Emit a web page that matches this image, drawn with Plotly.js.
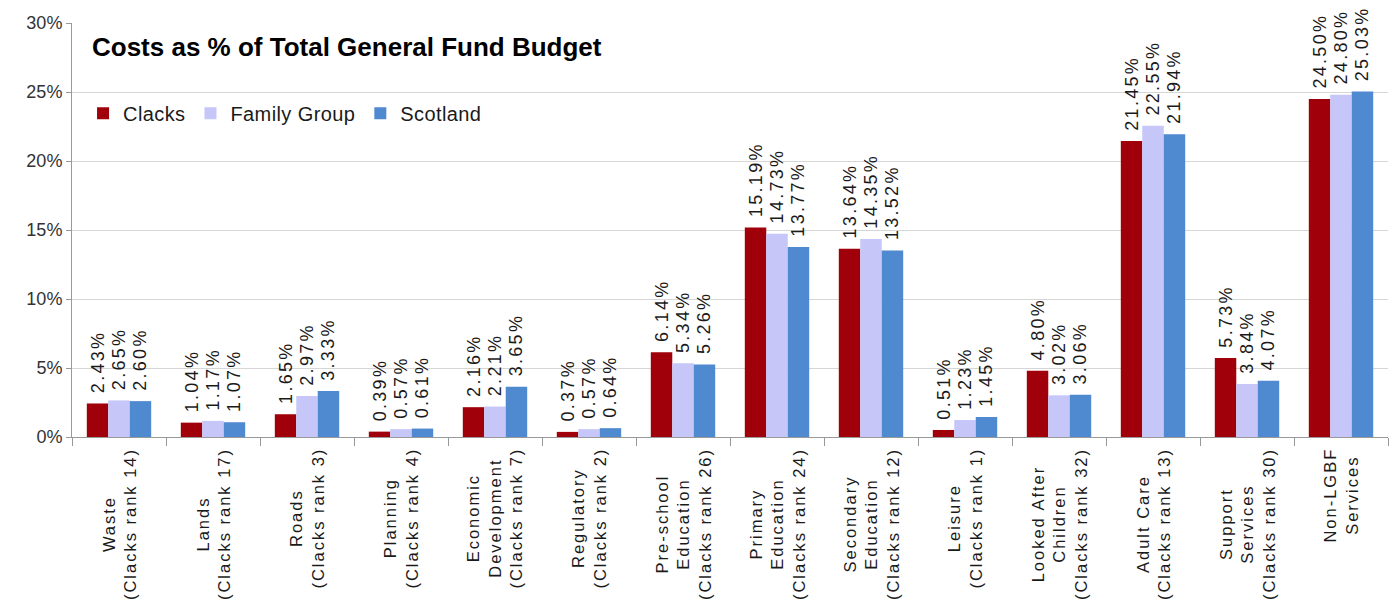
<!DOCTYPE html>
<html>
<head>
<meta charset="utf-8">
<script src="https://cdn.plot.ly/plotly-3.0.1.min.js"></script>
<style>
html,body{margin:0;padding:0;background:#fff;}
#chart{width:1399px;height:607px;}
text.bartext{letter-spacing:2.3px;}
text.annotation-text{letter-spacing:2px;}
text.legendtext{letter-spacing:0.4px;}
</style>
</head>
<body>
<div id="chart"></div>
<script>
const categories = ["Waste", "Lands", "Roads", "Planning", "Economic Development", "Regulatory", "Pre-school Education", "Primary Education", "Secondary Education", "Leisure", "Looked After Children", "Adult Care", "Support Services", "Non-LGBF Services"];
const categoryLabels = [
  "Waste<br>(Clacks rank 14)",
  "Lands<br>(Clacks rank 17)",
  "Roads<br>(Clacks rank 3)",
  "Planning<br>(Clacks rank 4)",
  "Economic<br>Development<br>(Clacks rank 7)",
  "Regulatory<br>(Clacks rank 2)",
  "Pre-school<br>Education<br>(Clacks rank 26)",
  "Primary<br>Education<br>(Clacks rank 24)",
  "Secondary<br>Education<br>(Clacks rank 12)",
  "Leisure<br>(Clacks rank 1)",
  "Looked After<br>Children<br>(Clacks rank 32)",
  "Adult Care<br>(Clacks rank 13)",
  "Support<br>Services<br>(Clacks rank 30)",
  "Non-LGBF<br>Services"
];
const clacks = [2.43, 1.04, 1.65, 0.39, 2.16, 0.37, 6.14, 15.19, 13.64, 0.51, 4.80, 21.45, 5.73, 24.50];
const familyGroup = [2.65, 1.17, 2.97, 0.57, 2.21, 0.57, 5.34, 14.73, 14.35, 1.23, 3.02, 22.55, 3.84, 24.80];
const scotland = [2.60, 1.07, 3.33, 0.61, 3.65, 0.64, 5.26, 13.77, 13.52, 1.45, 3.06, 21.94, 4.07, 25.03];
const seriesNames = ["Clacks", "Family Group", "Scotland"];
const seriesColors = ["#a0000a", "#c6c6f8", "#4f89cf"];
const yTicks = [0, 5, 10, 15, 20, 25, 30];

const font = "Liberation Sans, Arial, sans-serif";
const allSeries = [clacks, familyGroup, scotland];
const traces = allSeries.map((vals, i) => ({
  type: "bar",
  name: seriesNames[i],
  x: categories,
  y: vals,
  marker: {color: seriesColors[i]},
  text: vals.map(v => " " + v.toFixed(2) + "%"),
  textposition: "outside",
  textangle: -90,
  constraintext: "none",
  cliponaxis: false,
  textfont: {family: font, size: 18, color: "#1a1a1a"},
  hoverinfo: "x+y"
}));

const annotations = categories.map((c, i) => ({
  x: c, xref: "x", y: -0.022, yref: "paper",
  text: categoryLabels[i], showarrow: false,
  textangle: -90, align: "center",
  xanchor: "center", yanchor: "top",
  font: {family: font, size: 16.5, color: "#1a1a1a"}
}));

const layout = {
  width: 1399, height: 607,
  margin: {l: 72, r: 11, t: 23, b: 170},
  paper_bgcolor: "#fff", plot_bgcolor: "#fff",
  title: {
    text: "<b>Costs as % of Total General Fund Budget</b>",
    x: 92 / 1399, xanchor: "left", xref: "container",
    y: 1 - 47 / 607, yanchor: "middle", yref: "container",
    pad: {t: 0, b: 0, l: 0, r: 0},
    font: {family: font, size: 26, color: "#000"}
  },
  barmode: "group",
  bargap: 0.315, bargroupgap: 0,
  showlegend: true,
  legend: {orientation: "h", x: 0.0084, y: 0.782, xanchor: "left", yanchor: "middle",
           font: {family: font, size: 20, color: "#1a1a1a"},
           bgcolor: "rgba(0,0,0,0)"},
  xaxis: {type: "category", showticklabels: false, ticks: "outside", tickson: "boundaries",
          ticklen: 8, tickcolor: "#999", showline: true, linecolor: "#999", linewidth: 1,
          showgrid: false, zeroline: false, fixedrange: true},
  yaxis: {range: [0, 30], tickvals: yTicks, ticktext: yTicks.map(v => v + "%"),
          showgrid: true, gridcolor: "#d6d6d6", gridwidth: 1,
          showline: true, linecolor: "#999", ticks: "outside", ticklen: 5, tickcolor: "#999",
          zeroline: false, tickfont: {family: font, size: 18, color: "#333"}, fixedrange: true},
  annotations: annotations,
  font: {family: font}
};

Plotly.newPlot("chart", traces, layout, {displayModeBar: false, staticPlot: true});
</script>
</body>
</html>
